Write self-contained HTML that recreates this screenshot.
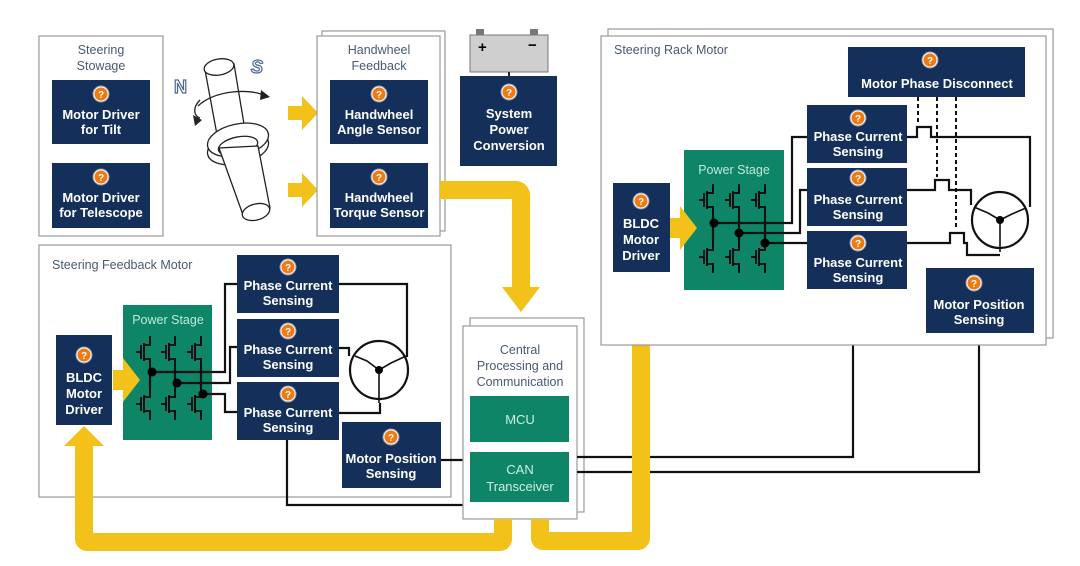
<!DOCTYPE html>
<html><head><meta charset="utf-8"><style>
html,body{margin:0;padding:0;background:#fff;}
svg{display:block;font-family:"Liberation Sans",sans-serif;}
.nb{fill:#14305a;}
.bt{fill:#fff;font-weight:bold;font-size:13px;text-anchor:middle;}
.gt{fill:#4a5a70;font-size:12.5px;}
.gc{fill:#4a5a70;font-size:12.5px;text-anchor:middle;}
.fr{fill:#fff;stroke:#9a9a9a;stroke-width:1.2;}
.gr{fill:#0e8566;}
.wl{fill:none;stroke:#111;stroke-width:2.2;}
.yl{fill:#f2c11a;}
</style></head><body>
<svg width="1080" height="566" viewBox="0 0 1080 566">
<defs>
<g id="q"><circle r="8.5" fill="#fff" opacity="0.5"/><circle r="7" fill="#f07a12" stroke="#fff" stroke-width="1"/><text y="4" text-anchor="middle" font-size="10" font-weight="bold" fill="#fff">?</text></g>
<g id="fet" fill="none" stroke="#111" stroke-width="2"><path d="M-12 0 h5 M-7 -7 v14 M-4 -9 v18 M-4 -7 h6 v-9 M-4 7 h6 v9"/></g>
</defs>

<!-- Steering Stowage -->
<rect class="fr" x="39" y="36" width="124" height="200"/>
<text class="gc" x="101" y="54">Steering</text><text class="gc" x="101" y="70">Stowage</text>
<rect class="nb" x="52" y="80" width="98" height="64"/><use href="#q" x="101" y="94"/>
<text class="bt" x="101" y="119">Motor Driver</text><text class="bt" x="101" y="134">for Tilt</text>
<rect class="nb" x="52" y="163" width="98" height="65"/><use href="#q" x="101" y="177"/>
<text class="bt" x="101" y="202">Motor Driver</text><text class="bt" x="101" y="217">for Telescope</text>

<!-- shaft -->
<g fill="#fff" stroke="#222" stroke-width="1.3">
<path d="M205 70 L218 140 L246 136 L234 64 Z"/>
<ellipse cx="219" cy="67" rx="15" ry="8" transform="rotate(-10 219 67)"/>
<ellipse cx="238" cy="148" rx="31" ry="16" transform="rotate(-12 238 148)"/>
<ellipse cx="238" cy="140" rx="31" ry="16" transform="rotate(-12 238 140)"/>
<ellipse cx="238" cy="146" rx="20" ry="9" transform="rotate(-12 238 146)"/>
<path d="M219 148 L243 215 L270 208 L258 146 Z"/>
<ellipse cx="256" cy="212" rx="14" ry="8" transform="rotate(-15 256 212)"/>
</g>
<path d="M198 106 C215 90 250 88 266 96" fill="none" stroke="#222" stroke-width="1.3"/>
<path d="M261 90 l9 7 -10 3z" fill="#222"/>
<path d="M200 100 C192 108 194 116 200 118" fill="none" stroke="#222" stroke-width="1.3"/>
<path d="M193 115 l9 5 -7 6z" fill="#222"/>
<text x="174" y="93" font-size="18" font-weight="bold" fill="#fff" stroke="#4a6a90" stroke-width="1.2">N</text>
<text x="251" y="73" font-size="18" font-weight="bold" font-style="italic" fill="#fff" stroke="#4a6a90" stroke-width="1.2">S</text>

<!-- yellow small arrows -->
<path class="yl" d="M288 106 h14 v-10 l16 17 -16 17 v-10 h-14z"/>
<path class="yl" d="M288 183 h14 v-10 l16 17 -16 17 v-10 h-14z"/>

<!-- Handwheel Feedback -->
<rect class="fr" x="322" y="31" width="123" height="200"/>
<rect class="fr" x="317" y="36" width="123" height="200"/>
<text class="gc" x="379" y="54">Handwheel</text><text class="gc" x="379" y="70">Feedback</text>
<rect class="nb" x="330" y="80" width="98" height="64"/><use href="#q" x="379" y="94"/>
<text class="bt" x="379" y="119">Handwheel</text><text class="bt" x="379" y="134">Angle Sensor</text>
<rect class="nb" x="330" y="163" width="98" height="65"/><use href="#q" x="379" y="177"/>
<text class="bt" x="379" y="202">Handwheel</text><text class="bt" x="379" y="217">Torque Sensor</text>

<!-- battery & power -->
<rect x="476" y="29" width="8" height="7" fill="#777"/><rect x="530" y="29" width="8" height="7" fill="#777"/>
<rect x="470" y="35" width="78" height="37" fill="#cfcfcf" stroke="#777"/>
<text x="478" y="52" font-size="15" font-weight="bold">+</text><text x="528" y="50" font-size="15" font-weight="bold">−</text>
<line x1="509" y1="72" x2="509" y2="77" stroke="#222" stroke-width="2"/>
<rect class="nb" x="460" y="76" width="97" height="90"/><use href="#q" x="509" y="92"/>
<text class="bt" x="509" y="118">System</text><text class="bt" x="509" y="134">Power</text><text class="bt" x="509" y="150">Conversion</text>

<!-- yellow big path top -->
<path class="yl" d="M440 181 h76 a14 14 0 0 1 14 14 v92 h10 l-19 25 -19 -25 h10 v-88 h-72z"/>

<!-- Steering Feedback Motor -->
<rect class="fr" x="39" y="245" width="412" height="252"/>
<text class="gt" x="52" y="269">Steering Feedback Motor</text>
<rect class="nb" x="56" y="335" width="56" height="90"/><use href="#q" x="84" y="355"/>
<text class="bt" x="84" y="382">BLDC</text><text class="bt" x="84" y="398">Motor</text><text class="bt" x="84" y="414">Driver</text>
<rect class="gr" x="123" y="305" width="89" height="135"/>
<path class="yl" d="M113 370 h10 v-12 l17 22 -17 22 v-12 h-10z"/>
<text x="168" y="324" text-anchor="middle" font-size="12.5" fill="#bfe8da">Power Stage</text>
<g>
<use href="#fet" x="148" y="352"/><use href="#fet" x="173" y="352"/><use href="#fet" x="199" y="352"/>
<use href="#fet" x="148" y="404"/><use href="#fet" x="173" y="404"/><use href="#fet" x="199" y="404"/>
</g>
<g class="wl">
<path d="M150 368 v20 M175 368 v20 M201 368 v20"/>
<path d="M152 372 h73 v-88 h12"/>
<path d="M177 383 h53 v-36 h7"/>
<path d="M203 394 h22 v18 h12"/>
<path d="M339 284 h68 v73"/>
<path d="M339 348 h10 v8"/>
<path d="M339 413 h41 v-10"/>
<circle cx="379" cy="370" r="29"/>
<path d="M379 370 l-12 -9 -12 -5 M379 370 l12 -7 l15 -7 M379 370 v20 v13" stroke-width="1.6"/>
<path d="M287 440 v65 h178 M441 460 h24"/>
</g>
<circle cx="152" cy="372" r="4.5"/><circle cx="177" cy="383" r="4.5"/><circle cx="203" cy="394" r="4.5"/><circle cx="379" cy="370" r="4"/>
<rect class="nb" x="237" y="255" width="102" height="58"/><use href="#q" x="288" y="267"/>
<text class="bt" x="288" y="290">Phase Current</text><text class="bt" x="288" y="305">Sensing</text>
<rect class="nb" x="237" y="319" width="102" height="58"/><use href="#q" x="288" y="331"/>
<text class="bt" x="288" y="354">Phase Current</text><text class="bt" x="288" y="369">Sensing</text>
<rect class="nb" x="237" y="382" width="102" height="58"/><use href="#q" x="288" y="394"/>
<text class="bt" x="288" y="417">Phase Current</text><text class="bt" x="288" y="432">Sensing</text>
<rect class="nb" x="342" y="422" width="99" height="66"/><use href="#q" x="391" y="437"/>
<text class="bt" x="391" y="463">Motor Position</text><text class="bt" x="391" y="478">Sensing</text>

<!-- Central -->
<rect class="fr" x="470" y="318" width="114" height="194"/>
<rect class="fr" x="463" y="326" width="114" height="193"/>
<text class="gc" x="520" y="354">Central</text><text class="gc" x="520" y="370">Processing and</text><text class="gc" x="520" y="386">Communication</text>
<rect class="gr" x="470" y="396" width="99" height="46"/><text x="520" y="424" text-anchor="middle" font-size="13" fill="#cdeee2">MCU</text>
<rect class="gr" x="470" y="452" width="99" height="50"/><text x="520" y="474" text-anchor="middle" font-size="13" fill="#cdeee2">CAN</text><text x="520" y="491" text-anchor="middle" font-size="13" fill="#cdeee2">Transceiver</text>
<g class="wl"><path d="M577 457 h276 v-168 M577 472 h402 v-139"/></g>

<!-- yellow bottom paths -->
<path class="yl" d="M494 519 h18 v20 a12 12 0 0 1 -12 12 H87 a12 12 0 0 1 -12 -12 V446 h-11 l20 -20 20 20 h-11 V533 H494 Z"/>
<path class="yl" d="M531 519 h18 V532 H632 V290 h-11 l20 -20 20 20 h-11 V538 a12 12 0 0 1 -12 12 H543 a12 12 0 0 1 -12 -12 Z"/>

<!-- Steering Rack Motor -->
<rect class="fr" x="608" y="29" width="445" height="309"/>
<rect class="fr" x="601" y="36" width="445" height="309"/>
<text class="gt" x="614" y="54">Steering Rack Motor</text>
<rect class="nb" x="848" y="47" width="177" height="50"/><use href="#q" x="930" y="60"/>
<text class="bt" x="937" y="88">Motor Phase Disconnect</text>
<rect class="nb" x="613" y="183" width="57" height="89"/><use href="#q" x="641" y="201"/>
<text class="bt" x="641" y="228">BLDC</text><text class="bt" x="641" y="244">Motor</text><text class="bt" x="641" y="260">Driver</text>
<rect class="gr" x="684" y="150" width="100" height="140"/>
<path class="yl" d="M670 218 h10 v-12 l17 22 -17 22 v-12 h-10z"/>
<text x="734" y="174" text-anchor="middle" font-size="12.5" fill="#bfe8da">Power Stage</text>
<use href="#fet" x="711" y="200"/><use href="#fet" x="737" y="200"/><use href="#fet" x="763" y="200"/>
<use href="#fet" x="711" y="257"/><use href="#fet" x="737" y="257"/><use href="#fet" x="763" y="257"/>
<g class="wl">
<path d="M713 216 v25 M739 216 v25 M765 216 v25"/>
<path d="M714 223 h78 v-86 h15"/>
<path d="M739 233 h61 v-43 h7"/>
<path d="M765 243 h42"/>
<path d="M907 137 h10 v-10 h14 v10 h99 v70"/>
<path d="M907 190 h28 v-10 h14 v10 h22 v15"/>
<path d="M907 243 h43 v-10 h14 v10 h3 v12 h33"/>
<circle cx="1000" cy="220" r="28"/>
<path d="M1000 220 l-12 -7 -14 -6 M1000 220 l12 -6 14 -6 M1000 220 v32" stroke-width="1.6"/>
</g>
<g stroke="#111" stroke-width="2" stroke-dasharray="4 3"><path d="M918 97 v27 M937 97 v80 M956 97 v133"/></g>
<circle cx="714" cy="223" r="4.5"/><circle cx="739" cy="233" r="4.5"/><circle cx="765" cy="243" r="4.5"/><circle cx="1000" cy="220" r="4"/>
<rect class="nb" x="807" y="105" width="100" height="58"/><use href="#q" x="858" y="118"/>
<text class="bt" x="858" y="141">Phase Current</text><text class="bt" x="858" y="156">Sensing</text>
<rect class="nb" x="807" y="168" width="100" height="58"/><use href="#q" x="858" y="178"/>
<text class="bt" x="858" y="204">Phase Current</text><text class="bt" x="858" y="219">Sensing</text>
<rect class="nb" x="807" y="231" width="100" height="58"/><use href="#q" x="858" y="243"/>
<text class="bt" x="858" y="267">Phase Current</text><text class="bt" x="858" y="282">Sensing</text>
<rect class="nb" x="926" y="268" width="108" height="65"/><use href="#q" x="974" y="283"/>
<text class="bt" x="979" y="309">Motor Position</text><text class="bt" x="979" y="324">Sensing</text>
</svg>
</body></html>
